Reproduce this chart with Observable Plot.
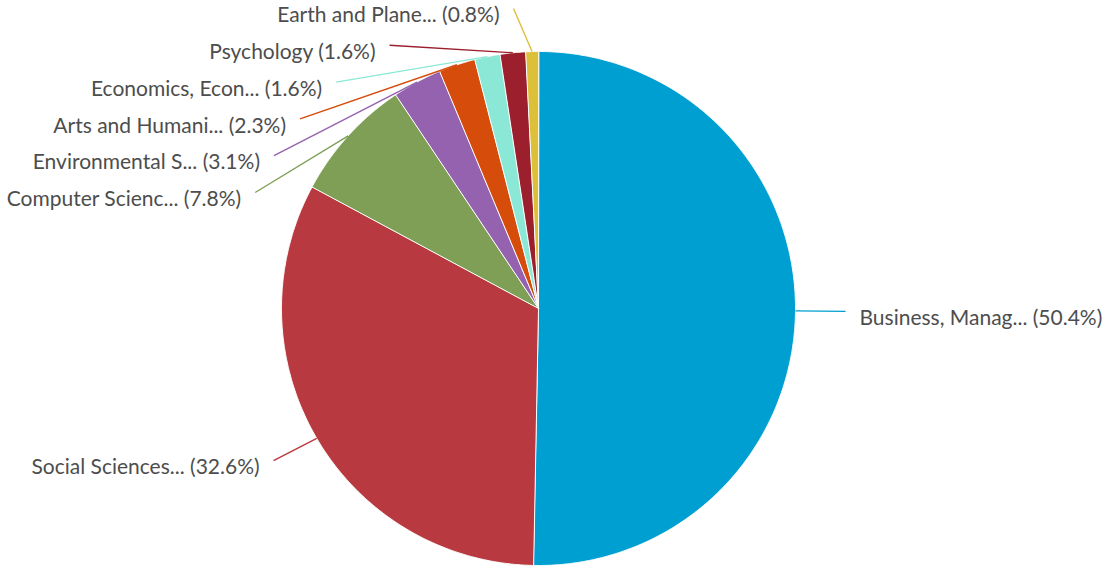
<!DOCTYPE html>
<html><head><meta charset="utf-8">
<script src="https://cdn.jsdelivr.net/npm/d3@7"></script>
<script src="https://cdn.jsdelivr.net/npm/@observablehq/plot@0.6"></script>
<style>body{margin:0;background:#fff;font-family:Lato,sans-serif}</style>
</head><body><div id="chart"></div>
<script>
const categories = ["Business, Manag...", "Social Sciences...", "Computer Scienc...", "Environmental S...", "Arts and Humani...", "Economics, Econ...", "Psychology", "Earth and Plane..."];
const values = [50.4, 32.6, 7.8, 3.1, 2.3, 1.6, 1.6, 0.8];
const colors = ["#009fd1", "#b8393f", "#7e9f55", "#9562b0", "#d54c0b", "#8ce8d6", "#9b1f2d", "#dcc03a"];

// layout (pixels)
const W = 1108, H = 568, R = 257, CX = 538, CY = 308;
const RX = 307 / R, RY = 301 / R;          // label anchor ellipse (radius units)
const TOP = 300 / R, GAP = 36.8 / R;       // label stacking
const FONT = 21;

const arcs = d3.pie().sort(null).value(d => d)(values);

const marks = [];
arcs.forEach((a, i) => {
  const n = Math.max(2, Math.ceil((a.endAngle - a.startAngle) / (Math.PI / 720)));
  const pts = [{x: 0, y: 0}];
  for (let k = 0; k <= n; k++) {
    const t = a.startAngle + (a.endAngle - a.startAngle) * k / n;
    pts.push({x: Math.sin(t), y: Math.cos(t)});
  }
  marks.push(Plot.line(pts, {x: "x", y: "y", curve: "linear-closed", fill: colors[i], stroke: "white", strokeWidth: 1, strokeLinejoin: "round"}));
});

const labels = arcs.map((a, i) => {
  const mid = (a.startAngle + a.endAngle) / 2;
  return {
    text: `${categories[i]} (${values[i].toFixed(1)}%)`,
    color: colors[i],
    left: Math.sin(mid) < 0,
    ex: Math.sin(mid), ey: Math.cos(mid),
    ny: RY * Math.cos(mid)
  };
});
for (const side of [true, false]) {
  const g = labels.filter(d => d.left === side).sort((a, b) => b.ny - a.ny);
  let prev = Infinity;
  for (const d of g) {
    d.y = Math.min(d.ny, prev - GAP, TOP);
    prev = d.y;
    d.x = (side ? -1 : 1) * RX * Math.sqrt(Math.max(0, 1 - (d.y / RY) ** 2));
  }
}
const L = labels.filter(d => d.left), Rt = labels.filter(d => !d.left);

marks.push(Plot.link(labels, {x1: "ex", y1: "ey", x2: "x", y2: "y", stroke: "color", strokeWidth: 1.4}));
marks.push(Plot.text(L, {x: "x", y: "y", text: "text", textAnchor: "end", dx: -14, dy: 7, fontSize: FONT, fill: "#4d4d4d"}));
marks.push(Plot.text(Rt, {x: "x", y: "y", text: "text", textAnchor: "start", dx: 14, dy: 7, fontSize: FONT, fill: "#4d4d4d"}));

const chart = Plot.plot({
  width: W, height: H,
  marginTop: 0, marginBottom: 0, marginLeft: 0, marginRight: 0,
  style: {fontFamily: "Lato, sans-serif", background: "white"},
  x: {domain: [-CX / R, (W - CX) / R], axis: null},
  y: {domain: [-(H - CY) / R, CY / R], axis: null},
  color: {type: "identity"},
  marks
});
document.getElementById("chart").appendChild(chart);
</script>
</body></html>
